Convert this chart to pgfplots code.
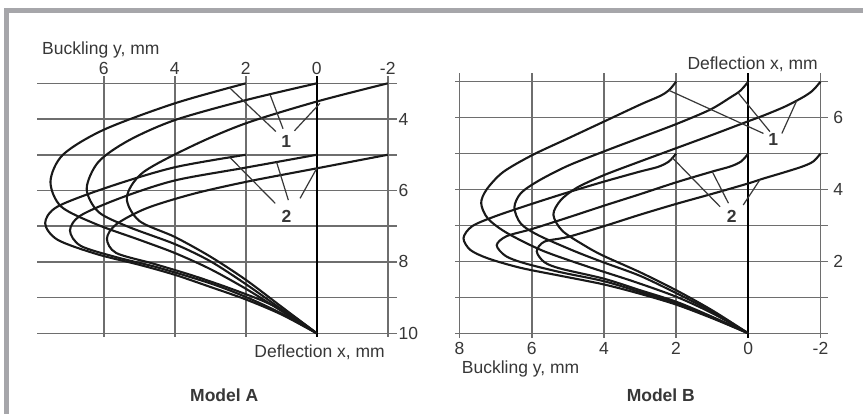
\documentclass[border=0pt]{standalone}
\usepackage{pgfplots}
\pgfplotsset{compat=1.18}
\usepackage{fontspec}
\setmainfont{Liberation Sans}
\definecolor{framec}{RGB}{166,166,170}
\definecolor{gridc}{RGB}{110,110,110}
\definecolor{txt}{RGB}{55,55,55}
\definecolor{crv}{RGB}{25,25,25}
\newcommand{\fs}{\fontsize{17.5bp}{20bp}\selectfont}
\pgfplotsset{
  mystyle/.style={
    scale only axis, anchor=south west,
    axis line style={draw=none}, major tick length=0pt,
    grid=major, major grid style={gridc, line width=1.6bp},
    tick label style={font=\fs, text=txt, inner sep=1.5bp},
    clip=false,
  },
  crvs/.style={crv, line width=2.1bp, smooth, tension=0.5},
}
\tikzset{lead/.style={txt, line width=1.2bp}}
\begin{document}
\begin{tikzpicture}
\useasboundingbox (0bp,0bp) rectangle (863bp,414bp);
\fill[white] (0bp,0bp) rectangle (863bp,414bp);
\fill[framec] (4bp,401bp) rectangle (863bp,406bp);
\fill[framec] (4bp,0bp) rectangle (9bp,406bp);

% ---------------- Model A ----------------
\begin{axis}[mystyle, at={(37bp,77.1bp)}, width=360bp, height=260.7bp,
  x dir=reverse, y dir=reverse,
  xmin=-2.26, xmax=7.88, ymin=2.8, ymax=10.1,
  xtick={-2,0,2,4,6}, xticklabels={-2,0,2,4,6},
  ytick={3,4,5,6,7,8,9,10}, yticklabels={,4,,6,,8,,10},
  xticklabel pos=upper, yticklabel pos=right]
\addplot[black, line width=2.4bp] coordinates {(0,2.8) (0,10.1)};
% group 1
\addplot[crvs] coordinates {(2,3) (4,3.56) (6,4.3) (7.15,5.0) (7.5,5.75) (7.2,6.45) (6.2,6.95) (5,7.38) (4,7.75) (3,8.2) (2,8.75) (1,9.37) (0,10)};
\addplot[crvs] coordinates {(0,3) (2,3.47) (4,4.03) (5.3,4.6) (6.15,5.2) (6.48,5.95) (6.15,6.6) (5.3,7.02) (4,7.5) (3,7.98) (2,8.62) (1,9.32) (0,10)};
\addplot[crvs] coordinates {(-2,3) (0,3.51) (2,4.12) (3.5,4.75) (4.9,5.5) (5.35,6.2) (5.0,6.85) (4,7.3) (3,7.85) (2,8.5) (1,9.25) (0,10)};
% group 2
\addplot[crvs] coordinates {(2,5) (4,5.35) (5.8,5.88) (7.3,6.45) (7.65,6.92) (7.3,7.38) (6.2,7.78) (5,8.08) (4,8.36) (3,8.7) (2,9.05) (1,9.47) (0,10)};
\addplot[crvs] coordinates {(0,5) (2,5.36) (4,5.72) (5.5,6.2) (6.65,6.7) (6.95,7.12) (6.65,7.55) (5.6,7.88) (4.5,8.15) (3,8.6) (2,8.98) (1,9.44) (0,10)};
\addplot[crvs] coordinates {(-2,5) (0,5.38) (2,5.76) (3.5,6.1) (4.8,6.5) (5.65,6.95) (5.91,7.35) (5.65,7.75) (4.6,8.05) (3.5,8.38) (2.5,8.72) (1.5,9.1) (0.7,9.5) (0,10)};
% leaders
\draw[lead] (2.46,3.12) -- (1.15,4.35);
\draw[lead] (1.31,3.33) -- (0.95,4.27);
\draw[lead] (-0.09,3.56) -- (0.63,4.33);
\draw[lead] (2.44,5.08) -- (1.17,6.36);
\draw[lead] (1.13,5.21) -- (0.8,6.27);
\draw[lead] (0,5.38) -- (0.47,6.22);
\node[font=\fs\bfseries, text=txt] at (0.86,4.62) {1};
\node[font=\fs\bfseries, text=txt] at (0.85,6.72) {2};
\end{axis}

% ---------------- Model B ----------------
\begin{axis}[mystyle, at={(455.2bp,76bp)}, width=372.5bp, height=265.3bp,
  x dir=reverse,
  xmin=-2.2, xmax=8.12, ymin=-0.13, ymax=7.25,
  xtick={-2,0,2,4,6,8}, xticklabels={-2,0,2,4,6,8},
  ytick={0,1,2,3,4,5,6,7}, yticklabels={,,2,,4,,6,},
  xticklabel pos=lower, yticklabel pos=right,
  xticklabel style={yshift=-3bp}, yticklabel style={xshift=4bp}]
\addplot[black, line width=2.4bp] coordinates {(0,-0.13) (0,7.25)};
% group 1
\addplot[crvs] coordinates {(2,7) (2.2,6.76) (2.45,6.6) (3,6.36) (4,5.89) (5,5.42) (6,4.95) (6.8,4.48) (7.25,4.0) (7.4,3.62) (7.22,3.2) (6.7,2.8) (5.7,2.3) (4.43,1.85) (3.2,1.45) (2,1.02) (1,0.56) (0,0)};
\addplot[crvs] coordinates {(0,7) (0.22,6.75) (0.5,6.56) (1.06,6.22) (2,5.82) (3,5.44) (4,5.06) (5,4.66) (5.8,4.25) (6.3,3.9) (6.48,3.5) (6.3,3.05) (5.8,2.72) (4.8,2.28) (4,1.97) (3,1.6) (2,1.12) (1,0.6) (0,0)};
\addplot[crvs] coordinates {(-2,7) (-1.78,6.75) (-1.5,6.56) (-1.0,6.3) (-0.4,6.05) (0,5.9) (1,5.52) (2,5.15) (3,4.78) (4,4.4) (4.75,4.05) (5.2,3.7) (5.4,3.3) (5.15,2.85) (4.5,2.42) (4,2.15) (3,1.7) (2,1.2) (1,0.64) (0,0)};
% group 2
\addplot[crvs] coordinates {(2,5) (2.2,4.78) (2.5,4.63) (3,4.5) (4,4.22) (5,3.92) (6,3.6) (7,3.26) (7.65,2.98) (7.89,2.65) (7.7,2.32) (7.2,2.08) (6.3,1.82) (5.2,1.6) (4,1.36) (3,1.1) (2,0.8) (1,0.42) (0,0)};
\addplot[crvs] coordinates {(0,5) (0.2,4.78) (0.5,4.64) (1,4.5) (2,4.2) (3,3.87) (4,3.55) (5,3.22) (6,2.9) (6.7,2.7) (6.97,2.45) (6.72,2.15) (6.2,1.95) (5.2,1.7) (4,1.45) (3,1.15) (2,0.84) (1,0.44) (0,0)};
\addplot[crvs] coordinates {(-2,5) (-1.8,4.78) (-1.5,4.64) (-1.0,4.48) (-0.4,4.3) (0,4.17) (1,3.88) (2,3.6) (3,3.3) (4,2.98) (5,2.68) (5.65,2.55) (5.86,2.28) (5.65,1.98) (5.2,1.8) (4,1.52) (3,1.2) (2,0.88) (1,0.46) (0,0)};
% leaders
\draw[lead] (2.2,6.76) -- (-0.42,5.56);
\draw[lead] (0.28,6.69) -- (-0.6,5.61);
\draw[lead] (-1.34,6.47) -- (-0.93,5.56);
\draw[lead] (2.1,4.88) -- (0.78,3.52);
\draw[lead] (1.0,4.5) -- (0.55,3.62);
\draw[lead] (-0.32,4.27) -- (0.14,3.57);
\node[font=\fs\bfseries, text=txt] at (-0.69,5.38) {1};
\node[font=\fs\bfseries, text=txt] at (0.46,3.25) {2};
\end{axis}

% texts
\node[anchor=base west, font=\fs, text=txt, inner sep=0pt] at (42bp,359bp) {Buckling y, mm};
\node[anchor=base east, font=\fs, text=txt, inner sep=0pt] at (385bp,56.7bp) {Deflection x, mm};
\node[anchor=base east, font=\fs, text=txt, inner sep=0pt] at (818bp,344.7bp) {Deflection x, mm};
\node[anchor=base west, font=\fs, text=txt, inner sep=0pt] at (461.7bp,40.7bp) {Buckling y, mm};
\node[anchor=base, font=\fs\bfseries, text=txt, inner sep=0pt] at (224.2bp,13bp) {Model A};
\node[anchor=base, font=\fs\bfseries, text=txt, inner sep=0pt] at (660.8bp,13bp) {Model B};
\end{tikzpicture}
\end{document}
